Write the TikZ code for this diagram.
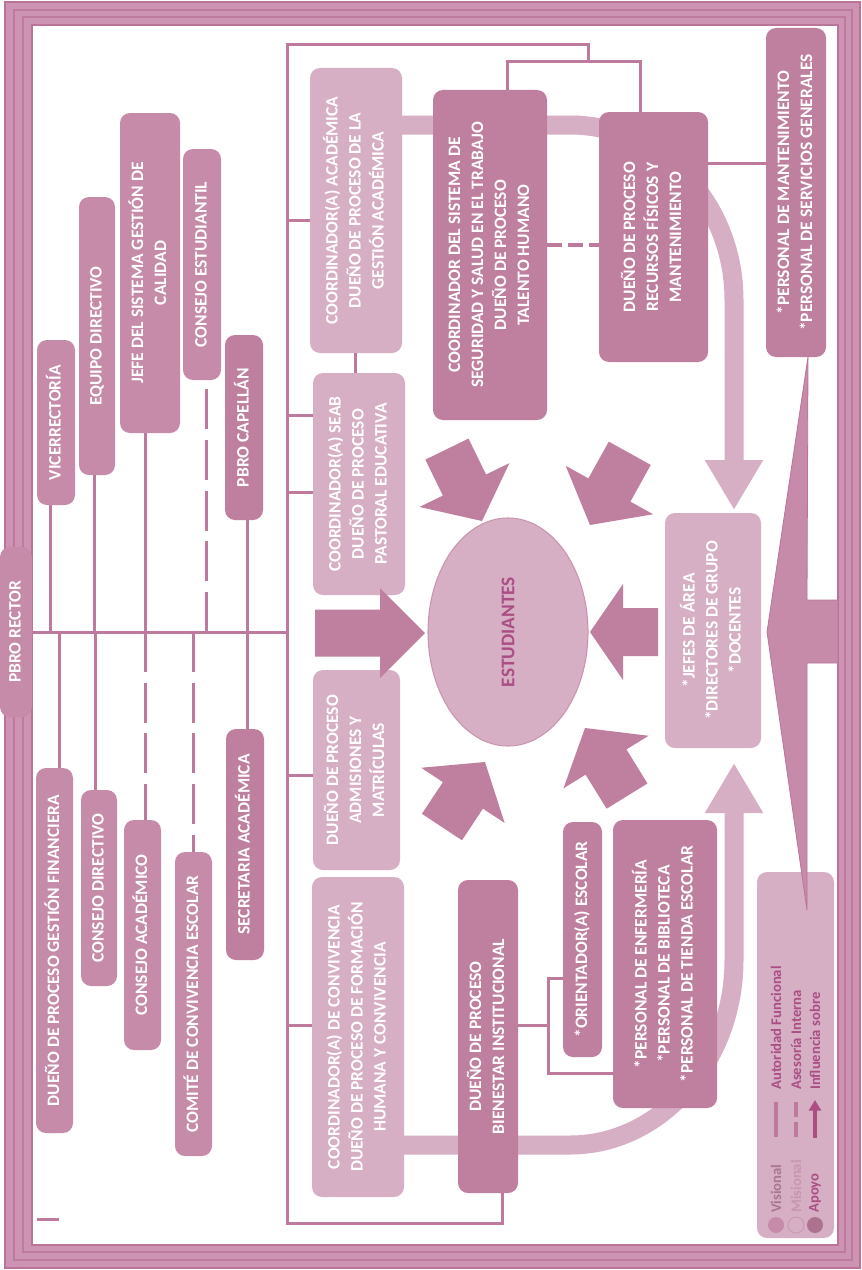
\documentclass[tikz,border=0pt]{standalone}
\usepackage{graphicx}
\usepackage{fontspec}
\setmainfont{Carlito}
\usetikzlibrary{shapes.geometric,arrows.meta,calc}
\definecolor{framec}{RGB}{204,148,178}
\definecolor{framed}{RGB}{186,116,152}
\definecolor{vis}{RGB}{198,139,169}
\definecolor{apo}{RGB}{191,127,159}
\definecolor{mis}{RGB}{214,175,196}
\definecolor{misd}{RGB}{200,150,176}
\definecolor{linec}{RGB}{190,122,156}
\definecolor{txtd}{RGB}{170,78,132}
\newcommand\rot[1]{\rotatebox{90}{\begin{tabular}{@{}c@{}}#1\end{tabular}}}
\newcommand\bx[7]{\node[#1, minimum width={(#5-#3)*0.75pt}, minimum height={(#6-#4)*0.75pt}] (#2) at ({(#3+#5)/2},{(#4+#6)/2}) {\rot{#7}};}
\newcommand\barrow[7]{\begin{scope}[shift={(#1,#2)},rotate=#3]\fill[apo] (0,0) -- (-#5,#7) -- (-#5,#6) -- (-#4,#6) -- (-#4,-#6) -- (-#5,-#6) -- (-#5,-#7) -- cycle;\end{scope}}
\begin{document}
\begin{tikzpicture}[x=0.75pt,y=-0.75pt,
 font=\fontsize{13.1}{17.3}\selectfont\bfseries,
 conn/.style={draw=linec, line width=2.25pt},
 dconn/.style={conn, dash pattern=on 30pt off 8pt},
 band/.style={draw=mis, line width=14.25pt},
 vbox/.style={fill=vis, rounded corners=7.5pt, inner sep=0pt, text=white},
 abox/.style={vbox, fill=apo},
 mbox/.style={vbox, fill=mis},
 legt/.style={font=\fontsize{11}{12}\selectfont\bfseries, rotate=90, anchor=west, inner sep=0pt},
]
\useasboundingbox (0,0) rectangle (862,1270);
\fill[white] (0,0) rectangle (862,1270);
% frame
\fill[framec, even odd rule] (5,2) rectangle (860,1268) (32,25) rectangle (838,1245);
\draw[framed!80!framec, line width=1.2pt] (14,10) rectangle (852,1260);
\draw[framed!80!framec, line width=1.2pt] (23,17) rectangle (845,1252);
\draw[framed, line width=0.8pt] (5,2) rectangle (860,1268);
\draw[framed, line width=0.8pt] (32,25) rectangle (838,1245);
% light bands
\draw[band, -{Triangle[width=41pt,length=37.5pt]}] (395,125) -- (570,125) .. controls (660,125) and (734,203) .. (734,300) -- (734,510);
\draw[band, -{Triangle[width=41pt,length=37.5pt]}] (398,1145) -- (570,1145) .. controls (660,1145) and (734,1062) .. (734,960) -- (734,763);
% left boxes
\bx{vbox}{rector}{0}{547}{32}{717}{PBRO RECTOR}
\bx{vbox}{vice}{37}{340}{75}{505}{VICERRECTORÍA}
\bx{vbox}{equipo}{79}{197}{115}{475}{EQUIPO DIRECTIVO}
\bx{vbox}{jefe}{120}{113}{180}{433}{JEFE DEL SISTEMA GESTIÓN DE\\CALIDAD}
\bx{vbox}{cest}{183}{149}{221}{380}{CONSEJO ESTUDIANTIL}
\bx{abox}{capel}{225}{335}{263}{520}{PBRO CAPELLÁN}
\bx{vbox}{fin}{36}{768}{73}{1133}{DUEÑO DE PROCESO GESTIÓN FINANCIERA}
\bx{vbox}{cdir}{81}{790}{117}{986}{CONSEJO DIRECTIVO}
\bx{vbox}{cacad}{124}{820}{161}{1050}{CONSEJO ACADÉMICO}
\bx{vbox}{comite}{175}{852}{212}{1156}{COMITÉ DE CONVIVENCIA ESCOLAR}
\bx{abox}{secre}{226}{729}{264}{960}{SECRETARIA ACADÉMICA}
% middle boxes
\bx{mbox}{acad}{310}{68}{402}{353}{COORDINADOR(A) ACADÉMICA\\DUEÑO DE PROCESO DE LA\\GESTIÓN ACADÉMICA}
\bx{mbox}{seab}{313}{373}{405}{595}{COORDINADOR(A) SEAB\\DUEÑO DE PROCESO\\PASTORAL EDUCATIVA}
\bx{mbox}{admis}{313}{670}{400}{870}{DUEÑO DE PROCESO\\ADMISIONES Y\\MATRÍCULAS}
\bx{mbox}{conv}{312}{877}{404}{1197}{COORDINADOR(A) DE CONVIVENCIA\\DUEÑO DE PROCESO DE FORMACIÓN\\HUMANA Y CONVIVENCIA}
\bx{abox}{sist}{433}{90}{547}{420}{COORDINADOR DEL SISTEMA DE\\SEGURIDAD Y SALUD EN EL TRABAJO\\DUEÑO DE PROCESO\\TALENTO HUMANO}
\bx{abox}{recur}{599}{112}{708}{362}{DUEÑO DE PROCESO\\RECURSOS FÍSICOS Y\\MANTENIMIENTO}
\bx{abox}{pmant}{766}{28}{826}{357}{{*}PERSONAL DE MANTENIMIENTO\\{*}PERSONAL DE SERVICIOS GENERALES}
\bx{abox}{bien}{458}{880}{518}{1193}{DUEÑO DE PROCESO\\BIENESTAR INSTITUCIONAL}
\bx{abox}{orient}{563}{822}{602}{1057}{{*}ORIENTADOR(A) ESCOLAR}
\bx{abox}{penf}{613}{820}{717}{1108}{{*}PERSONAL DE ENFERMERÍA\\{*}PERSONAL DE BIBLIOTECA\\{*}PERSONAL DE TIENDA ESCOLAR}
\bx{mbox}{jefes}{665}{513}{761}{748}{{*}JEFES DE ÁREA\\{*}DIRECTORES DE GRUPO\\{*}DOCENTES}
% connectors left
\coordinate (hub) at (287,632);
\draw[conn] (rector.east) -- (hub);
\coordinate (c1) at (50,632); \draw[conn] (c1 |- vice.south) -- (c1);
\coordinate (c2) at (94,632); \draw[conn] (c2 |- equipo.south) -- (c2);
\coordinate (c3) at (145,632); \draw[conn] (c3 |- jefe.south) -- (c3);
\coordinate (c4) at (206,632); \draw[dconn] (c4) -- (c4 |- cest.south);
\coordinate (c5) at (247,632); \draw[conn] (c5 |- capel.south) -- (c5);
\coordinate (d1) at (59,632); \draw[conn] (d1) -- (d1 |- fin.north);
\coordinate (d2) at (95,632); \draw[conn] (d2) -- (d2 |- cdir.north);
\coordinate (d3) at (145,632); \draw[dconn] (d3) -- (d3 |- cacad.north);
\coordinate (d4) at (193,632); \draw[dconn] (d4) -- (d4 |- comite.north);
\coordinate (d5) at (247,632); \draw[conn] (d5) -- (d5 |- secre.north);
% big bracket
\coordinate (tl) at (287,45); \coordinate (bl) at (287,1223);
\coordinate (j1) at (507,62); \coordinate (j2) at (640,62);
\coordinate (j3) at (588,62); \coordinate (j4) at (588,45);
\coordinate (j5) at (502,1223);
\draw[conn] (sist.north -| j1) -- (j1) -- (j2) -- (recur.north -| j2);
\draw[conn] (j3) -- (j4) -- (tl) -- (bl) -- (j5) -- (bien.south -| j5);
\coordinate (s1) at (287,220); \draw[conn] (s1) -- (s1 -| acad.west);
\coordinate (s2) at (287,415); \draw[conn] (s2) -- (s2 -| seab.west);
\coordinate (s3) at (287,492); \draw[conn] (s3) -- (s3 -| seab.west);
\coordinate (s4) at (287,775); \draw[conn] (s4) -- (s4 -| admis.west);
\coordinate (s5) at (287,1025); \draw[conn] (s5) -- (s5 -| conv.west);
\coordinate (k) at (355,360); \draw[conn] (k |- acad.south) -- (k |- seab.north);
% right connectors
\coordinate (m) at (730,163); \draw[conn] (m -| recur.east) -- (m -| pmant.west);
\coordinate (n) at (570,245); \draw[linec, line width=3.5pt, dash pattern=on 11pt off 4.5pt] (n -| sist.east) -- (n -| recur.west);
\coordinate (b1) at (548,1025); \coordinate (b2) at (548,978); \coordinate (b3) at (548,1073);
\draw[conn] (b1 -| bien.east) -- (b1);
\draw[conn] (b2 -| orient.west) -- (b2) -- (b3) -- (b3 -| penf.west);
\draw[conn] (37,1219) -- (59,1219);
% students
\node[ellipse, fill=mis, draw=misd, line width=0.8pt, minimum width=120pt, minimum height=171pt, inner sep=0pt] (stu) at (508,632) {\rotatebox{90}{\fontsize{14.5}{16}\selectfont\bfseries\color{txtd}ESTUDIANTES}};
\barrow{425}{633}{0}{110}{45}{23.5}{45}
\barrow{590}{632}{180}{68}{33}{24}{48}
\barrow{482}{521}{-64}{80}{40}{24}{50}
\barrow{590}{525}{-119}{82}{40}{24}{50}
\barrow{485}{762}{56.5}{78}{40}{24}{50}
\barrow{585}{728}{121.7}{80}{40}{24}{50}
% legend
\node[mbox, minimum width=57.75pt, minimum height=274.5pt] (leg) at (795.5,1055) {};
\fill[vis] (776,1225) circle (6pt);
\filldraw[fill=mis, draw=misd, line width=0.6pt] (796,1225) circle (6pt);
\fill[apo!90!black] (815,1225) circle (6pt);
\node[legt, text=vis!85!black] (lv) at (776,1213) {Visional};
\node[legt, text=misd] (lm) at (796,1213) {Misional};
\node[legt, text=txtd] (la) at (815,1213) {Apoyo};
\draw[linec, line width=3pt] (776,1137) -- (776,1102);
\draw[linec, line width=3pt, dash pattern=on 11pt off 4pt] (796,1137) -- (796,1102);
\draw[txtd, line width=3.5pt, -{Triangle[width=9pt,length=8pt]}] (815,1138) -- (815,1100);
\node[legt, text=txtd] (l1) at (776,1090) {Autoridad Funcional};
\node[legt, text=txtd] (l2) at (796,1090) {Asesoría Interna};
\node[legt, text=txtd] (l3) at (815,1090) {Influencia sobre};
% wedge to frame
\filldraw[fill=vis, draw=framed, line width=0.6pt] (808,357) -- (767,632) -- (807,910) -- (807,663) -- (838,663) -- (838,600) -- (807,600) -- cycle;
\end{tikzpicture}
\end{document}
